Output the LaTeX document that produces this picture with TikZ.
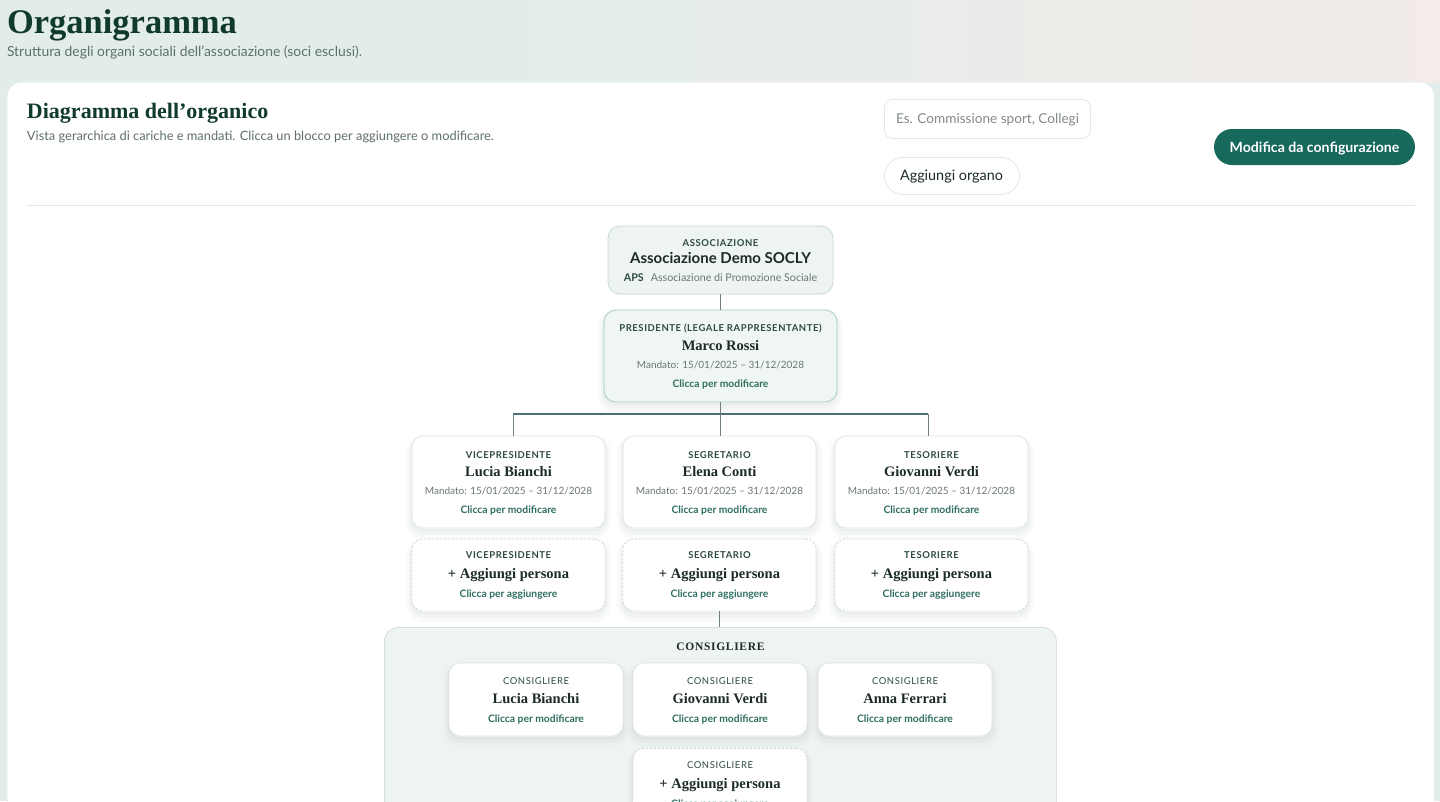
\documentclass[tikz,border=0pt]{standalone}
\usepackage{fontspec}
\setmainfont{Liberation Serif}
\setsansfont{Lato}
\newfontfamily\capsfont[LetterSpace=6]{Lato}
\newfontfamily\grpfont[LetterSpace=6]{Liberation Serif}
\definecolor{bg}{HTML}{E2EDEB}
\definecolor{bgpink}{HTML}{F3ECE8}
\definecolor{darkt}{HTML}{113A2F}
\definecolor{grayt}{HTML}{5F6F6A}
\definecolor{lightb}{HTML}{E2E7E6}
\definecolor{teal}{HTML}{17695C}
\definecolor{rolec}{HTML}{2E4A43}
\definecolor{namec}{HTML}{1C2B28}
\definecolor{mandc}{HTML}{6B7673}
\definecolor{clickc}{HTML}{2F6E62}
\definecolor{assocf}{HTML}{EDF4F2}
\definecolor{assocb}{HTML}{C6D8D3}
\definecolor{presf}{HTML}{EFF6F4}
\definecolor{presb}{HTML}{A9CCC3}
\definecolor{busc}{HTML}{4F6F76}
\definecolor{dropc}{HTML}{6F807C}
\definecolor{grpf}{HTML}{EEF4F3}
\definecolor{grpb}{HTML}{D5E1DE}
\definecolor{dashc}{HTML}{D3DBD9}
\definecolor{shadowc}{HTML}{2A4A44}
\newcommand{\fs}[1]{\fontsize{#1}{#1}\selectfont}
\begin{document}
\begin{tikzpicture}[x=1pt,y=-1pt,
  txt/.style={inner sep=0pt, outer sep=0pt, anchor=base},
  txtw/.style={inner sep=0pt, outer sep=0pt, anchor=base west},
  softshadow/.style={
    preaction={draw=shadowc, solid, draw opacity=0.025, line width=12pt, transform canvas={yshift=-5pt}},
    preaction={draw=shadowc, solid, draw opacity=0.03, line width=6pt, transform canvas={yshift=-4pt}},
    preaction={draw=shadowc, solid, draw opacity=0.03, line width=2pt, transform canvas={yshift=-2pt}}},
  cardbox/.style={draw=lightb, line width=0.8pt, fill=white, rounded corners=11pt, inner sep=0pt, softshadow},
  addbox/.style={softshadow, draw=dashc, line width=0.8pt, dash pattern=on 2pt off 2pt, fill=white, rounded corners=11pt, inner sep=0pt},
  rolet/.style={txt, text=rolec, font=\capsfont\bfseries\fs{9.5}},
  namet/.style={txt, text=namec, font=\bfseries\fs{14.5}},
  mandt/.style={txt, text=mandc, font=\sffamily\fs{10}},
  clickt/.style={txt, text=clickc, font=\sffamily\bfseries\fs{10.3}},
  subrolet/.style={txt, text=rolec, font=\capsfont\fs{9.5}},
  vline/.style={draw=dropc, line width=0.8pt},
  busline/.style={draw=busc, line width=1.5pt},
]
\useasboundingbox (0,0) rectangle (1440,801);
\clip (0,0) rectangle (1440,801);
% background
\fill[bg] (0,0) rectangle (1440,801);
\shade[left color=bg, right color=bgpink] (500,0) rectangle (1440,82);
% main panel
\node[draw=lightb, fill=white, rounded corners=14pt, minimum width=1427, minimum height=780, anchor=north west, inner sep=0pt] (panel) at (7,82) {};
% titles
\node[txtw, text=darkt, font=\bfseries\fs{34.5}] (title) at (7,33) {Organigramma};
\node[txtw, text=grayt, font=\sffamily\fs{13.9}] (subtitle) at (7,56) {Struttura degli organi sociali dell’associazione (soci esclusi).};
\node[txtw, text=darkt, font=\bfseries\fs{22}] (ctitle) at (27,118) {Diagramma dell’organico};
\node[txtw, text=grayt, font=\sffamily\fs{12.85}] (csub) at (27,140) {Vista gerarchica di cariche e mandati. Clicca un blocco per aggiungere o modificare.};
% controls
\node[draw=lightb, line width=0.8pt, fill=white, rounded corners=8pt, minimum width=206, minimum height=39, anchor=north west, inner sep=0pt] (search) at (884,99) {};
\node[txtw, text=mandc!85!white, font=\sffamily\fs{13.6}] (searchtxt) at (896,123.5) {Es. Commissione sport, Collegi};
\node[draw=lightb, line width=0.8pt, fill=white, rounded corners=18.5pt, minimum width=135, minimum height=37, anchor=north west, inner sep=0pt] (addorg) at (884,157) {};
\node[txt, text=namec, font=\sffamily\fs{14.4}] (addorgtxt) at (951.5,180.8) {Aggiungi organo};
\node[fill=teal, rounded corners=18pt, minimum width=201, minimum height=36, inner sep=0pt] (modifica) at (1314.5,147) {};
\node[txt, text=white, font=\sffamily\bfseries\fs{14.1}] (modtxt) at (1314.5,152) {Modifica da configurazione};
\draw[lightb, line width=0.9pt] (27,205) -- (1415,205);

% association
\node[draw=assocb, line width=0.8pt, fill=assocf, rounded corners=12pt, minimum width=225, minimum height=68, inner sep=0pt] (assoc) at (720.5,260) {};
\node[rolet] (assocrole) at (720.5,246.3) {ASSOCIAZIONE};
\node[txt, text=namec, font=\sffamily\bfseries\fs{15}] (assocname) at (720.5,263.5) {Associazione Demo SOCLY};
\node[txt, text=mandc, font=\sffamily\fs{10.7}] (assoctype) at (720.5,281.3) {\textcolor{rolec}{\bfseries APS}\hspace{7pt}Associazione di Promozione Sociale};

% president
\node[draw=presb, line width=0.8pt, fill=presf, rounded corners=12pt, minimum width=233, minimum height=92, inner sep=0pt, softshadow] (pres) at (720.5,356) {};
\node[rolet] (presrole) at (720.5,331.3) {PRESIDENTE (LEGALE RAPPRESENTANTE)};
\node[namet] (presname) at (720.5,350.5) {Marco Rossi};
\node[mandt] (presmand) at (720.5,368.8) {Mandato: 15/01/2025 – 31/12/2028};
\node[clickt] (presclick) at (720.5,387.5) {Clicca per modificare};

\draw[vline] (assoc.south) -- (pres.north);

% row of officers
\foreach \nm/\cx/\role/\who in {vp/508.5/VICEPRESIDENTE/Lucia Bianchi, seg/719.5/SEGRETARIO/Elena Conti, tes/931.5/TESORIERE/Giovanni Verdi}{
  \node[cardbox, minimum width=193, minimum height=92] (\nm) at (\cx,482) {};
  \node[rolet] (\nm role) at (\cx,458.3) {\role};
  \node[namet] (\nm name) at (\cx,476.5) {\who};
  \node[mandt] (\nm mand) at (\cx,494.8) {Mandato: 15/01/2025 – 31/12/2028};
  \node[clickt] (\nm click) at (\cx,513.5) {Clicca per modificare};
  \node[addbox, minimum width=193, minimum height=72] (\nm add) at (\cx,575) {};
  \node[rolet] (\nm addrole) at (\cx,558.8) {\role};
  \node[namet] (\nm addname) at (\cx,578) {+ Aggiungi persona};
  \node[clickt] (\nm addclick) at (\cx,597.5) {Clicca per aggiungere};
}

% bus
\coordinate (busc) at (720.5,414);
\coordinate (busl) at (513,414);
\coordinate (busr) at (928,414);
\draw[vline] (pres.south) -- (busc);
\draw[busline] (busl) -- (busr);
\draw[vline] (busl) -- (busl |- vp.north);
\draw[vline] (busc) -- (busc |- seg.north);
\draw[vline] (busr) -- (busr |- tes.north);

% council group
\node[draw=grpb, line width=0.8pt, fill=grpf, rounded corners=14pt, minimum width=672, minimum height=260, anchor=north west, inner sep=0pt] (grp) at (384,627) {};
\draw[vline] (segadd.south) -- (segadd.south |- grp.north);
\node[txt, text=namec, font=\grpfont\bfseries\fs{11.5}] (grptitle) at (720.5,650.3) {CONSIGLIERE};
\foreach \nm/\cx/\who in {c1/536/Lucia Bianchi, c2/720/Giovanni Verdi, c3/905/Anna Ferrari}{
  \node[cardbox, minimum width=174, minimum height=73] (\nm) at (\cx,699.5) {};
  \node[subrolet] (\nm role) at (\cx,684.8) {CONSIGLIERE};
  \node[namet] (\nm name) at (\cx,703) {\who};
  \node[clickt] (\nm click) at (\cx,722.5) {Clicca per modificare};
}
\node[addbox, minimum width=174, minimum height=73, anchor=north] (cadd) at (720,748) {};
\node[subrolet] (caddrole) at (720,768.8) {CONSIGLIERE};
\node[namet] (caddname) at (720,788) {+ Aggiungi persona};
\node[clickt] (caddclick) at (720,807.5) {Clicca per aggiungere};
\end{tikzpicture}
\end{document}
